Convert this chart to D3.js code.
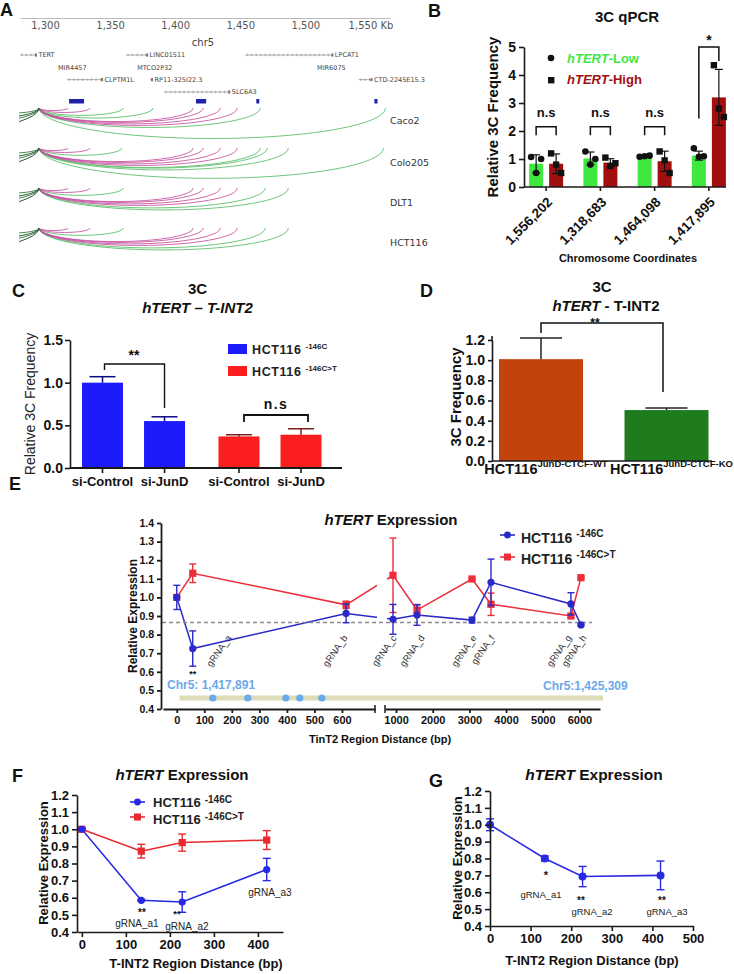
<!DOCTYPE html>
<html><head><meta charset="utf-8">
<script src="https://cdn.jsdelivr.net/npm/d3@7/dist/d3.min.js"></script>
<style>
html,body{margin:0;padding:0;background:#fff;}
svg{display:block;}
</style></head>
<body>
<svg id="fig" width="734" height="974" xmlns="http://www.w3.org/2000/svg"></svg>
<script>
// ================= DATA =================
// Panel A: genome browser (kb on chr5)
const kbTicks = [1300, 1350, 1400, 1450, 1500, 1550];
const viewKb = [1280.8, 1565];
const anchorKb = 1295.4;
const geneNames = ["TERT", "LINC01511", "LPCAT1", "MIR4457", "MTCO2P32", "MIR6075", "CLPTM1L", "RP11-325I22.3", "CTD-2245E15.3", "SLC6A3"];
const geneStart = [1280.8, 1362.3, 1453.8, 1310.0, 1370.8, 1509.0, 1316.9, 1380.8, 1540.8, 1391.5];
const geneEnd   = [1293.8, 1379.2, 1521.5, 1310.0, 1370.8, 1509.0, 1344.6, 1383.0, 1551.5, 1442.3];
const geneRow   = [0, 0, 0, 1, 1, 1, 2, 2, 2, 3];
const regionStart = [1318.5, 1416.0, 1462.3, 1553.0];
const regionEnd   = [1330.0, 1423.8, 1464.6, 1555.4];
const cellLines = ["Caco2", "Colo205", "DLT1", "HCT116"];
const pinkLoops = [
  [1317.7, 1334.6, 1413.8, 1421.5, 1434.6, 1447.7],
  [1317.7, 1334.6, 1413.8, 1421.5, 1434.6, 1447.7],
  [1317.7, 1334.6, 1413.8, 1421.5, 1434.6, 1447.7],
  [1317.7, 1334.6, 1413.8, 1421.5, 1434.6, 1447.7]];
const greenLoops = [
  [1360.0, 1383.1, 1465.4, 1561.5],
  [1359.2, 1465.4, 1470.8, 1486.9, 1560.0],
  [1360.0, 1469.2, 1486.9],
  [1360.0, 1469.2, 1486.9]];
const leftLoops = [
  [1250, 1200, 1150, 1050],
  [1250, 1200, 1150, 1050],
  [1250, 1200, 1150, 1050],
  [1250, 1200, 1150, 1050]];

// Panel B: 3C qPCR
const coordLabels = ["1,556,202", "1,318,683", "1,464,098", "1,417,895"];
const lowMean  = [0.83, 1.02, 1.10, 1.12];
const lowSD    = [0.32, 0.23, 0.03, 0.16];
const lowPts   = [[1.07, 0.50, 1.00], [1.27, 0.80, 1.00], [1.08, 1.10, 1.12], [1.38, 1.08, 1.10]];
const highMean = [0.83, 0.87, 0.92, 3.20];
const highSD   = [0.35, 0.14, 0.36, 1.00];
const highPts  = [[1.20, 0.80, 0.50], [1.05, 0.75, 0.85], [1.27, 0.95, 0.50], [4.35, 2.80, 2.50]];
const yTicksB  = [0, 1, 2, 3, 4, 5];

// Panel C
const groupsC = ["si-Control", "si-JunD", "si-Control", "si-JunD"];
const seriesC = ["-146C", "-146C", "-146C>T", "-146C>T"];
const valuesC = [1.00, 0.55, 0.37, 0.39];
const errC    = [0.07, 0.05, 0.02, 0.07];
const yTicksC = [0, 0.5, 1.0, 1.5];

// Panel D
const labelsD = ["JunD-CTCF-WT", "JunD-CTCF-KO"];
const valuesD = [1.01, 0.505];
const errD    = [0.21, 0.02];
const yTicksD = [0, 0.2, 0.4, 0.6, 0.8, 1.0, 1.2];

// Panel E
const eX       = [0, 58, 615, 918, 1572, 3071, 3589, 5768, 6041];
const eBlue    = [1.00, 0.725, 0.914, 0.882, 0.905, 0.878, 1.081, 0.965, 0.852];
const eBlueErr = [0.065, 0.095, 0.05, 0.08, 0.055, 0.015, 0.125, 0.06, 0.005];
const eRed     = [1.00, 1.13, 0.96, 1.119, 0.932, 1.099, 0.963, 0.90, 1.106];
const eRedErr  = [0.0, 0.05, 0.02, 0.20, 0.03, 0.005, 0.06, 0.01, 0.005];
const gRNAs    = ["gRNA_a", "gRNA_b", "gRNA_c", "gRNA_d", "gRNA_e", "gRNA_f", "gRNA_g", "gRNA_h"];
const gRNAlabelBp = [200, 622, 1027, 1790, 3207, 3698, 5797, 6206];
const eTicks1  = [0, 100, 200, 300, 400, 500, 600];
const eTicks2  = [1000, 2000, 3000, 4000, 5000, 6000];
const eBaseline = 0.865;
const siteBp   = [131, 258, 396, 447, 527];
const regionBp = [10, 6640];

// Panel F
const fX       = [0, 135, 228, 420];
const fBlue    = [1.00, 0.585, 0.575, 0.765];
const fBlueErr = [0.005, 0.005, 0.06, 0.065];
const fRed     = [1.00, 0.872, 0.922, 0.937];
const fRedErr  = [0.005, 0.04, 0.05, 0.055];
const fTicks   = [0, 100, 200, 300, 400];

// Panel G
const gX   = [0, 135, 228, 420];
const gVal = [1.00, 0.80, 0.693, 0.70];
const gErr = [0.035, 0.015, 0.06, 0.085];
const gTicks = [0, 100, 200, 300, 400, 500];
const yTicksFG = [0.4, 0.5, 0.6, 0.7, 0.8, 0.9, 1.0, 1.1, 1.2];

// ================= DRAW =================
const svg = d3.select("#fig");
const SANS = "'Liberation Sans', Arial, Helvetica, sans-serif";
const NARROW = "'Liberation Sans Narrow', 'Liberation Sans', Arial, sans-serif";
const DEJA = "'DejaVu Sans', Verdana, sans-serif";
svg.attr("font-family", SANS);
svg.append("rect").attr("width", 734).attr("height", 974).attr("fill", "#fff");

function text(g, x, y, s, size, o = {}) {
  const t = g.append("text").attr("x", x).attr("y", y)
    .attr("font-size", size)
    .attr("font-weight", o.weight || "bold")
    .attr("text-anchor", o.anchor || "start")
    .attr("fill", o.fill || "#111");
  if (o.family) t.attr("font-family", o.family);
  if (o.italic) t.attr("font-style", "italic");
  if (o.rotate != null) t.attr("transform", `rotate(${o.rotate},${x},${y})`);
  if (o.ls) t.attr("letter-spacing", o.ls);
  if (s != null) t.text(s);
  return t;
}
function styleAxis(g, size, o = {}) {
  g.attr("font-family", o.family || SANS).attr("font-size", size).attr("font-weight", o.weight || "bold");
  g.selectAll("path.domain").attr("stroke", o.color || "#1a1a1a").attr("stroke-width", o.sw || 1.6);
  g.selectAll(".tick line").attr("stroke", o.color || "#1a1a1a").attr("stroke-width", o.sw || 1.6);
  g.selectAll(".tick text").attr("fill", o.tfill || "#111");
}
function errBar(g, x, yLo, yHi, cap, color, sw, lowCap = true) {
  g.append("line").attr("x1", x).attr("x2", x).attr("y1", yLo).attr("y2", yHi).attr("stroke", color).attr("stroke-width", sw);
  g.append("line").attr("x1", x - cap / 2).attr("x2", x + cap / 2).attr("y1", yHi).attr("y2", yHi).attr("stroke", color).attr("stroke-width", sw);
  if (lowCap) g.append("line").attr("x1", x - cap / 2).attr("x2", x + cap / 2).attr("y1", yLo).attr("y2", yLo).attr("stroke", color).attr("stroke-width", sw);
}
function bracket(g, x1, x2, yTop, y1, y2, sw = 1.5) {
  g.append("path").attr("d", `M${x1},${y1}V${yTop}H${x2}V${y2}`).attr("fill", "none").attr("stroke", "#111").attr("stroke-width", sw);
}

// ---- panel letters ----
[["A", 0, 16], ["B", 428, 17], ["C", 12, 297], ["D", 420, 297], ["E", 9, 490], ["F", 12, 782], ["G", 429, 787]]
  .forEach(([l, x, y]) => text(svg, x, y, l, 18));

// ================= PANEL A =================
{
  const g = svg.append("g");
  const xA = d3.scaleLinear().domain(viewKb).range([20, 390]);
  g.append("g").attr("transform", "translate(0,18)")
    .call(d3.axisBottom(xA).tickValues(kbTicks).tickSize(0).tickPadding(4)
      .tickFormat(d => d3.format(",")(d) + (d === 1550 ? " Kb" : "")))
    .call(a => {
      a.attr("font-family", DEJA).attr("font-size", 10);
      a.select(".domain").attr("stroke", "#aaa").attr("stroke-width", 0.8);
      a.selectAll("text").attr("fill", "#555");
    });
  text(g, 203, 46, "chr5", 10, { weight: "normal", anchor: "middle", family: DEJA, fill: "#444" });

  const yGene = d3.scaleLinear().domain([0, 3]).range([55, 92]);
  geneNames.forEach((name, i) => {
    const x0 = xA(geneStart[i]), x1 = xA(geneEnd[i]), y = yGene(geneRow[i]);
    if (x1 > x0) {
      g.append("line").attr("x1", x0).attr("x2", x1).attr("y1", y).attr("y2", y).attr("stroke", "#888").attr("stroke-width", 0.7);
      for (let x = x0 + 2; x < x1 - 1; x += 4.5) {
        g.append("line").attr("x1", x).attr("x2", x).attr("y1", y - 1.3).attr("y2", y + 1.3).attr("stroke", "#888").attr("stroke-width", 0.6);
      }
      g.append("rect").attr("x", x1 - 2).attr("y", y - 1.6).attr("width", 2).attr("height", 3.2).attr("fill", "#777");
    }
    text(g, x1 + (x1 > x0 ? 1.5 : 0), y + 2.2, name, 6.5, { weight: "normal", family: DEJA, fill: "#444" });
  });
  regionStart.forEach((s, i) => {
    g.append("rect").attr("x", xA(s)).attr("y", 99).attr("width", xA(regionEnd[i]) - xA(s)).attr("height", 4.5).attr("fill", "#2020a8");
  });

  const yTrack = d3.scalePoint().domain(cellLines).range([108, 228]);
  svg.append("clipPath").attr("id", "clipA").append("rect").attr("x", 19).attr("y", 95).attr("width", 375).attr("height", 170);
  const ga = g.append("g").attr("clip-path", "url(#clipA)");
  const arc = (x0, x1, y) => {
    const s = Math.abs(x1 - x0);
    return `M${x0},${y}A${s / 2},${s * 0.088} 0 0 ${x1 < x0 ? 1 : 0} ${x1},${y}`;
  };
  const xa = xA(anchorKb);
  cellLines.forEach((c, k) => {
    const y = yTrack(c);
    greenLoops[k].forEach(e => ga.append("path").attr("d", arc(xa, xA(e), y)).attr("fill", "none").attr("stroke", "#5fbf6c").attr("stroke-width", 0.9));
    pinkLoops[k].forEach(e => ga.append("path").attr("d", arc(xa, xA(e), y)).attr("fill", "none").attr("stroke", "#c2479a").attr("stroke-width", 0.9).attr("stroke-opacity", 0.9));
    leftLoops[k].forEach((e, j) => ga.append("path").attr("d", arc(xa, xA(e), y)).attr("fill", "none").attr("stroke", j % 2 ? "#2a5a30" : "#4a8a50").attr("stroke-width", 1));
    text(g, 390, y + (k === 0 ? 16 : 18), c, 9.5, { weight: "normal", family: DEJA, fill: "#333" });
  });
}

// ================= PANEL B =================
{
  const g = svg.append("g");
  const yB = d3.scaleLinear().domain([0, 5]).range([187, 47]);
  const xB = d3.scaleBand().domain(coordLabels).range([519, 736]);
  const cx = d => xB(d) + xB.bandwidth() / 2;
  const GREEN = "#3fe83f", DRED = "#a10f0f";
  text(g, 627, 22, "3C qPCR", 15, { anchor: "middle" });

  coordLabels.forEach((c, i) => {
    const xc = cx(c);
    [[xc - 10, lowMean[i], lowSD[i], GREEN, lowPts[i], "c"], [xc + 10, highMean[i], highSD[i], DRED, highPts[i], "s"]]
      .forEach(([x, m, sd, col, pts, shape]) => {
        g.append("rect").attr("x", x - 7).attr("y", yB(m)).attr("width", 14).attr("height", yB(0) - yB(m)).attr("fill", col);
        errBar(g, x, yB(m - sd), yB(m + sd), 8, "#111", 1.2);
        pts.forEach((v, j) => {
          const px = x + (j - 1) * 5;
          if (shape === "c") g.append("circle").attr("cx", px).attr("cy", yB(v)).attr("r", 3.3).attr("fill", "#111");
          else g.append("rect").attr("x", px - 3.2).attr("y", yB(v) - 3.2).attr("width", 6.4).attr("height", 6.4).attr("fill", "#111");
        });
      });
    if (i < 3) {
      bracket(g, xc - 10, xc + 10, yB(2.15), yB(1.85), yB(1.85));
      text(g, xc, 117, "n.s", 13, { anchor: "middle", family: NARROW });
    } else {
      bracket(g, xc - 10, xc + 10, yB(5), yB(2.45), yB(4.5));
      text(g, xc, 45, "*", 14, { anchor: "middle" });
    }
  });
  g.append("g").attr("transform", "translate(524,0)")
    .call(d3.axisLeft(yB).tickValues(yTicksB).tickSize(5).tickSizeOuter(0).tickFormat(d3.format("d")))
    .call(a => styleAxis(a, 14));
  g.append("line").attr("x1", 524).attr("x2", 726).attr("y1", yB(0)).attr("y2", yB(0)).attr("stroke", "#1a1a1a").attr("stroke-width", 1.6);
  coordLabels.forEach(c => {
    g.append("line").attr("x1", cx(c)).attr("x2", cx(c)).attr("y1", yB(0)).attr("y2", yB(0) + 4).attr("stroke", "#1a1a1a").attr("stroke-width", 1.6);
    text(g, cx(c) + 7, 203, c, 13.5, { anchor: "end", rotate: -45 });
  });
  text(g, 498, 117, "Relative 3C Frequency", 15, { anchor: "middle", rotate: -90 });
  text(g, 628, 262, "Chromosome Coordinates", 11, { anchor: "middle" });
  // legend
  g.append("circle").attr("cx", 551).attr("cy", 58).attr("r", 3.3).attr("fill", "#111");
  g.append("rect").attr("x", 548).attr("y", 77).attr("width", 6.4).attr("height", 6.4).attr("fill", "#111");
  const l1 = text(g, 567, 63, null, 13, { fill: GREEN });
  l1.append("tspan").attr("font-style", "italic").text("hTERT");
  l1.append("tspan").text("-Low");
  const l2 = text(g, 567, 84, null, 13, { fill: DRED });
  l2.append("tspan").attr("font-style", "italic").text("hTERT");
  l2.append("tspan").text("-High");
}

// ================= PANEL C =================
{
  const g = svg.append("g");
  const yC = d3.scaleLinear().domain([0, 1.5]).range([468, 340]);
  const xC = d3.scaleLinear().domain([0, 3.2]).range([102.5, 301]);
  const pos = seriesC.map((s, i) => i + (i >= 2 ? 0.2 : 0));
  const colC = { "-146C": "#1c1cfa", "-146C>T": "#fa1e1e" };
  const errCol = { "-146C": "#0a0a80", "-146C>T": "#7a2020" };
  text(g, 197.5, 294, "3C", 15, { anchor: "middle" });
  text(g, 197.5, 313, "hTERT – T-INT2", 15, { anchor: "middle", italic: true });
  valuesC.forEach((v, i) => {
    const x = xC(pos[i]);
    g.append("rect").attr("x", x - 20.5).attr("y", yC(v)).attr("width", 41).attr("height", yC(0) - yC(v)).attr("fill", colC[seriesC[i]]);
    errBar(g, x, yC(v), yC(v + errC[i]), 26, errCol[seriesC[i]], 1.5, false);
  });
  g.append("g").attr("transform", "translate(70,0)")
    .call(d3.axisLeft(yC).tickValues(yTicksC).tickSize(5).tickPadding(2).tickSizeOuter(0).tickFormat(d3.format(".1f")))
    .call(a => styleAxis(a, 14));
  g.append("line").attr("x1", 70).attr("x2", 342).attr("y1", yC(0)).attr("y2", yC(0)).attr("stroke", "#1a1a1a").attr("stroke-width", 1.8);
  groupsC.forEach((lab, i) => {
    const x = xC(pos[i]);
    g.append("line").attr("x1", x).attr("x2", x).attr("y1", yC(0)).attr("y2", yC(0) + 5).attr("stroke", "#1a1a1a").attr("stroke-width", 1.6);
    text(g, x, 486, lab, 13, { anchor: "middle" });
  });
  text(g, 35, 404, "Relative 3C Frequency", 14, { anchor: "middle", rotate: -90, weight: "normal", fill: "#222" });
  // significance
  bracket(g, xC(pos[0]) + 2, xC(pos[1]), 364, 370, 408, 1.4);
  text(g, 134, 360, "**", 14, { anchor: "middle" });
  bracket(g, 244, 308, 415, 422, 422, 1.8);
  text(g, 276, 409, "n.s", 14, { anchor: "middle", ls: 1.5 });
  // legend
  [["-146C", 344, 354], ["-146C>T", 366, 376]].forEach(([s, ry, ty]) => {
    g.append("rect").attr("x", 228).attr("y", ry).attr("width", 19).attr("height", 10).attr("fill", colC[s]);
    const t = text(g, 252, ty, "HCT116", 12.5, { fill: "#222", ls: 0.6 });
    t.append("tspan").attr("font-size", 8).attr("dx", 4).attr("dy", -5).attr("letter-spacing", 0).text(s);
  });
}

// ================= PANEL D =================
{
  const g = svg.append("g");
  const yD = d3.scaleLinear().domain([0, 1.2]).range([461, 340]);
  const xD = d3.scalePoint().domain(labelsD).range([541, 666.5]);
  const colD = ["#c2430c", "#1e7b1e"];
  text(g, 602, 292, "3C", 15, { anchor: "middle" });
  const tt = text(g, 606, 311, null, 15, { anchor: "middle" });
  tt.append("tspan").attr("font-style", "italic").text("hTERT");
  tt.append("tspan").text(" - T-INT2");
  labelsD.forEach((l, i) => {
    const x = xD(l), v = valuesD[i];
    g.append("rect").attr("x", x - 42).attr("y", yD(v)).attr("width", 84).attr("height", yD(0) - yD(v)).attr("fill", colD[i]);
    errBar(g, x, yD(v), yD(v + errD[i]), 42, "#222", 1.5, false);
    const t = text(g, x + 5, 474, "HCT116", 14.5, { anchor: "middle", family: NARROW });
    t.append("tspan").attr("font-size", 9.5).attr("dy", -7).text(l);
  });
  g.append("g").attr("transform", "translate(492,0)")
    .call(d3.axisLeft(yD).tickValues(yTicksD).tickSize(4).tickSizeOuter(0).tickFormat(d3.format(".1f")))
    .call(a => styleAxis(a, 14));
  g.append("line").attr("x1", 492).attr("x2", 492).attr("y1", 336).attr("y2", 341).attr("stroke", "#1a1a1a").attr("stroke-width", 1.6);
  g.append("line").attr("x1", 492).attr("x2", 712).attr("y1", yD(0)).attr("y2", yD(0)).attr("stroke", "#1a1a1a").attr("stroke-width", 1.6);
  text(g, 461, 397, "3C Frequency", 15, { anchor: "middle", rotate: -90 });
  bracket(g, xD(labelsD[0]), 663, 323, 333, 392, 1.5);
  text(g, 595, 327, "**", 12, { anchor: "middle" });
}

// ================= PANEL E =================
{
  const g = svg.append("g");
  const s1 = d3.scaleLinear().domain([-50, 720]).range([163, 375]);
  const s2 = d3.scaleLinear().domain([700, 6560]).range([385, 600]);
  const xE = bp => (bp < 700 ? s1(bp) : s2(bp));
  const yE = d3.scaleLinear().domain([0.4, 1.4]).range([709, 523]);
  const BLUE = "#2a2ac8", RED = "#ec2e3a";
  const tt = text(g, 391, 525, null, 15, { anchor: "middle" });
  tt.append("tspan").attr("font-style", "italic").text("hTERT");
  tt.append("tspan").text(" Expression");

  const line = d3.line().x(d => xE(d[0])).y(d => yE(d[1]));
  g.append("path").attr("d", line(eX.map((x, i) => [x, eRed[i]]))).attr("fill", "none").attr("stroke", RED).attr("stroke-width", 1.5);
  g.append("path").attr("d", line(eX.map((x, i) => [x, eBlue[i]]))).attr("fill", "none").attr("stroke", BLUE).attr("stroke-width", 1.5);
  // axis break gap
  g.append("rect").attr("x", 377).attr("y", 530).attr("width", 10).attr("height", 170).attr("fill", "#fff");
  // dashed baseline
  g.append("line").attr("x1", 162).attr("x2", 592).attr("y1", yE(eBaseline)).attr("y2", yE(eBaseline))
    .attr("stroke", "#8a8a8a").attr("stroke-width", 1.3).attr("stroke-dasharray", "4,3");
  // genomic region bar
  g.append("rect").attr("x", xE(regionBp[0])).attr("y", 695.5).attr("width", xE(regionBp[1]) - xE(regionBp[0])).attr("height", 5).attr("fill", "#dcdcb8");
  siteBp.forEach(b => g.append("circle").attr("cx", xE(b)).attr("cy", 698).attr("r", 3.6).attr("fill", "#6aaaea"));
  text(g, 167, 689, "Chr5: 1,417,891", 12, { fill: "#6aa9e9" });
  text(g, 543, 690, "Chr5:1,425,309", 12, { fill: "#6aa9e9" });

  // error bars + markers
  eX.forEach((x, i) => {
    if (eRedErr[i] > 0) errBar(g, xE(x), yE(eRed[i] - eRedErr[i]), yE(eRed[i] + eRedErr[i]), 7, RED, 1.4);
    g.append("rect").attr("x", xE(x) - 3.6).attr("y", yE(eRed[i]) - 3.6).attr("width", 7.2).attr("height", 7.2).attr("fill", RED);
  });
  eX.forEach((x, i) => {
    errBar(g, xE(x), yE(eBlue[i] - eBlueErr[i]), yE(eBlue[i] + eBlueErr[i]), 7, BLUE, 1.4);
    g.append("circle").attr("cx", xE(x)).attr("cy", yE(eBlue[i])).attr("r", 3.6).attr("fill", BLUE);
  });
  text(g, xE(eX[1]), 677, "**", 9, { anchor: "middle" });
  gRNAs.forEach((l, i) => text(g, xE(gRNAlabelBp[i]), 638, l, 9.5, { anchor: "end", rotate: -55, weight: "normal", fill: "#333" }));

  // axes
  g.append("g").attr("transform", "translate(161,0)")
    .call(d3.axisLeft(yE).tickValues(d3.range(0, 11).map(k => 0.4 + k * 0.1)).tickSize(4).tickSizeOuter(0).tickFormat(d3.format(".1f")))
    .call(a => styleAxis(a, 10.5, { sw: 1.8 }));
  g.append("g").attr("transform", "translate(0,709)")
    .call(d3.axisBottom(s1).tickValues(eTicks1).tickSize(4).tickSizeOuter(0).tickFormat(d3.format("d")))
    .call(a => styleAxis(a, 11, { sw: 1.8 }));
  g.append("g").attr("transform", "translate(0,709)")
    .call(d3.axisBottom(s2).tickValues(eTicks2).tickSize(4).tickSizeOuter(0).tickFormat(d3.format("d")))
    .call(a => styleAxis(a, 11, { sw: 1.8 }));
  [375, 385].forEach(x => g.append("line").attr("x1", x).attr("x2", x).attr("y1", 705).attr("y2", 713).attr("stroke", "#1a1a1a").attr("stroke-width", 1.5));
  text(g, 137, 616, "Relative Expression", 12, { anchor: "middle", rotate: -90 });
  text(g, 380, 743, "TinT2 Region Distance (bp)", 11, { anchor: "middle" });
  // legend
  [[BLUE, 535, 543, "-146C", "c"], [RED, 557, 564, "-146C>T", "s"]].forEach(([col, ly, ty, s, shape]) => {
    g.append("line").attr("x1", 500).attr("x2", 515).attr("y1", ly).attr("y2", ly).attr("stroke", col).attr("stroke-width", 1.6);
    if (shape === "c") g.append("circle").attr("cx", 507.5).attr("cy", ly).attr("r", 3.4).attr("fill", col);
    else g.append("rect").attr("x", 504).attr("y", ly - 3.5).attr("width", 7).attr("height", 7).attr("fill", col);
    const t = text(g, 521, ty, "HCT116", 14, { fill: "#222" });
    t.append("tspan").attr("font-size", 10).attr("dx", 4).attr("dy", -6).text(s);
  });
}

// ================= PANEL F =================
{
  const g = svg.append("g");
  const xF = d3.scaleLinear().domain([-11, 457]).range([77, 283]);
  const yF = d3.scaleLinear().domain([0.4, 1.2]).range([932, 795]);
  const BLUE = "#2727e6", RED = "#e8292e";
  const tt = text(g, 182, 780, null, 15, { anchor: "middle" });
  tt.append("tspan").attr("font-style", "italic").text("hTERT");
  tt.append("tspan").text(" Expression");
  const line = d3.line().x(d => xF(d[0])).y(d => yF(d[1]));
  g.append("path").attr("d", line(fX.map((x, i) => [x, fRed[i]]))).attr("fill", "none").attr("stroke", RED).attr("stroke-width", 1.5);
  g.append("path").attr("d", line(fX.map((x, i) => [x, fBlue[i]]))).attr("fill", "none").attr("stroke", BLUE).attr("stroke-width", 1.5);
  fX.forEach((x, i) => {
    errBar(g, xF(x), yF(fRed[i] - fRedErr[i]), yF(fRed[i] + fRedErr[i]), 8, RED, 1.4);
    g.append("rect").attr("x", xF(x) - 3.6).attr("y", yF(fRed[i]) - 3.6).attr("width", 7.2).attr("height", 7.2).attr("fill", RED);
  });
  fX.forEach((x, i) => {
    errBar(g, xF(x), yF(fBlue[i] - fBlueErr[i]), yF(fBlue[i] + fBlueErr[i]), 8, BLUE, 1.4);
    g.append("circle").attr("cx", xF(x)).attr("cy", yF(fBlue[i])).attr("r", 3.6).attr("fill", BLUE);
  });
  g.append("g").attr("transform", "translate(77,0)")
    .call(d3.axisLeft(yF).tickValues(yTicksFG).tickSize(5).tickSizeOuter(0).tickFormat(d3.format(".1f")))
    .call(a => styleAxis(a, 13));
  g.append("g").attr("transform", "translate(0,932)")
    .call(d3.axisBottom(xF).tickValues(fTicks).tickSize(5).tickSizeOuter(0).tickFormat(d3.format("d")))
    .call(a => styleAxis(a, 13));
  text(g, 48, 863, "Relative Expression", 13, { anchor: "middle", rotate: -90 });
  text(g, 196, 968, "T-INT2 Region Distance (bp)", 13, { anchor: "middle" });
  text(g, 142, 916, "**", 10, { anchor: "middle" });
  text(g, 177, 917, "**", 9.5, { anchor: "middle" });
  text(g, 137, 927, "gRNA_a1", 10, { anchor: "middle", weight: "normal", fill: "#222" });
  text(g, 187, 930, "gRNA_a2", 10, { anchor: "middle", weight: "normal", fill: "#222" });
  text(g, 270, 896, "gRNA_a3", 10, { anchor: "middle", weight: "normal", fill: "#222" });
  [[BLUE, 802, 807, "-146C", "c"], [RED, 817, 824, "-146C>T", "s"]].forEach(([col, ly, ty, s, shape]) => {
    g.append("line").attr("x1", 130).attr("x2", 145).attr("y1", ly).attr("y2", ly).attr("stroke", col).attr("stroke-width", 1.6);
    if (shape === "c") g.append("circle").attr("cx", 137.5).attr("cy", ly).attr("r", 3.4).attr("fill", col);
    else g.append("rect").attr("x", 134).attr("y", ly - 3.5).attr("width", 7).attr("height", 7).attr("fill", col);
    const t = text(g, 153, ty, "HCT116", 13, { fill: "#222" });
    t.append("tspan").attr("font-size", 10).attr("dx", 4).attr("dy", -4).text(s);
  });
}

// ================= PANEL G =================
{
  const g = svg.append("g");
  const xG = d3.scaleLinear().domain([0, 500]).range([490, 693]);
  const yG = d3.scaleLinear().domain([0.4, 1.2]).range([926, 791]);
  const BLUE = "#2a2ae0";
  const tt = text(g, 594, 780, null, 15.5, { anchor: "middle" });
  tt.append("tspan").attr("font-style", "italic").text("hTERT");
  tt.append("tspan").text(" Expression");
  const line = d3.line().x(d => xG(d[0])).y(d => yG(d[1]));
  g.append("path").attr("d", line(gX.map((x, i) => [x, gVal[i]]))).attr("fill", "none").attr("stroke", BLUE).attr("stroke-width", 1.6);
  gX.forEach((x, i) => {
    errBar(g, xG(x), yG(gVal[i] - gErr[i]), yG(gVal[i] + gErr[i]), 8, BLUE, 1.4);
    g.append("circle").attr("cx", xG(x)).attr("cy", yG(gVal[i])).attr("r", 4).attr("fill", BLUE);
  });
  g.append("g").attr("transform", "translate(490,0)")
    .call(d3.axisLeft(yG).tickValues(yTicksFG).tickSize(5).tickSizeOuter(0).tickFormat(d3.format(".1f")))
    .call(a => styleAxis(a, 13));
  g.append("g").attr("transform", "translate(0,926)")
    .call(d3.axisBottom(xG).tickValues(gTicks).tickSize(5).tickSizeOuter(0).tickFormat(d3.format("d")))
    .call(a => styleAxis(a, 13));
  text(g, 462, 858, "Relative Expression", 13, { anchor: "middle", rotate: -90 });
  text(g, 592, 965, "T-INT2 Region Distance (bp)", 13, { anchor: "middle" });
  text(g, 546, 879, "*", 11, { anchor: "middle" });
  text(g, 581, 904, "**", 10, { anchor: "middle" });
  text(g, 662, 904, "**", 10, { anchor: "middle" });
  text(g, 541, 898, "gRNA_a1", 9.5, { anchor: "middle", weight: "normal", fill: "#222" });
  text(g, 592, 915, "gRNA_a2", 9.5, { anchor: "middle", weight: "normal", fill: "#222" });
  text(g, 667, 915, "gRNA_a3", 9.5, { anchor: "middle", weight: "normal", fill: "#222" });
}
</script>
</body></html>
